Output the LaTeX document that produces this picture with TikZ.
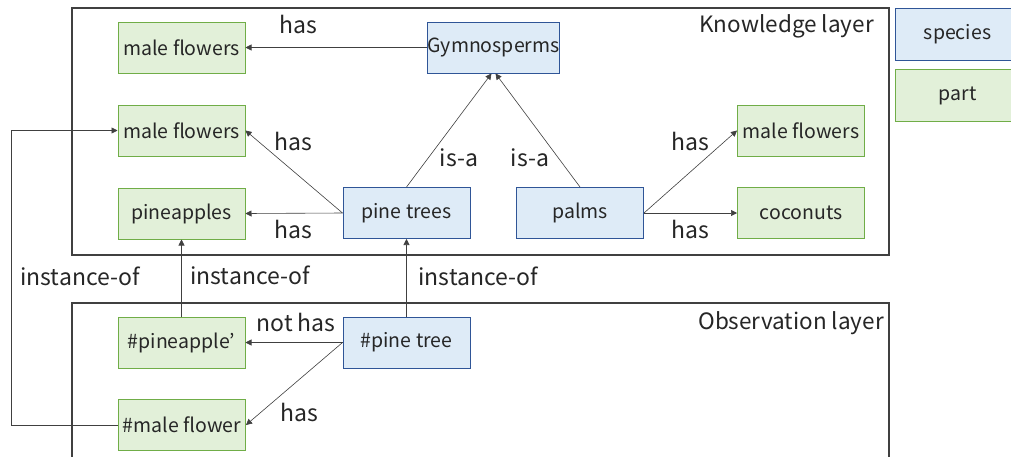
\documentclass[tikz,border=0pt]{standalone}
\usepackage{fontspec}
\setmainfont{Noto Sans CJK JP}
\usetikzlibrary{arrows.meta}
\definecolor{bfill}{HTML}{DEEBF7}
\definecolor{bline}{HTML}{2F5597}
\definecolor{gfill}{HTML}{E2F0D9}
\definecolor{gline}{HTML}{70AD47}
\definecolor{txt}{HTML}{262626}
\definecolor{edge}{HTML}{404040}
\tikzset{
  base/.style={minimum width=127pt,minimum height=51pt,inner sep=0pt,text=txt,font=\fontsize{19.5}{22}\selectfont,line width=1pt},
  species/.style={base,draw=bline,fill=bfill},
  part/.style={base,draw=gline,fill=gfill},
  rel/.style={draw=edge,line width=0.6pt,-{Triangle[length=6pt,width=6pt]}},
  lbl/.style={text=txt,font=\fontsize{23}{25}\selectfont,inner sep=0pt},
  layer/.style={draw=edge,line width=1.4pt}
}
\begin{document}
\begin{tikzpicture}[x=1pt,y=-1pt]
\useasboundingbox (0,0) rectangle (1011,456);
\clip (0,0) rectangle (1011,456);
\fill[white] (0,0) rectangle (1011,456);
% layers
\draw[layer] (72,8) rectangle (889,255);
\draw[layer] (72,303) rectangle (889,470);
\node[lbl,anchor=east,font=\fontsize{22.5}{25}\selectfont] (kl) at (874,26) {Knowledge layer};
\node[lbl,anchor=east,font=\fontsize{22.5}{25}\selectfont] (ol) at (884,323) {Observation layer};
% legend
\node[species,anchor=north west,minimum width=130pt,minimum height=52pt] (lsp) at (895,8) {\hspace*{-6pt}species};
\node[part,anchor=north west,minimum width=130pt,minimum height=52pt] (lpt) at (895,69) {\hspace*{-6pt}part};
% knowledge nodes
\node[part] (mf1) at (181.5,47.5) {male flowers};
\node[species] (gym) at (493.5,47.5) {Gymnosperms};
\node[part] (mf2) at (181.5,130.5) {male flowers};
\node[part] (pa) at (181.5,213.5) {pineapples};
\node[species] (pt) at (406.5,213) {pine trees};
\node[species] (pm) at (580,213) {palms};
\node[part] (mf3) at (801,130.5) {male flowers};
\node[part] (co) at (801,213) {coconuts};
% observation nodes
\node[part] (opa) at (181.5,342.5) {\#pineapple'};
\node[species] (opt) at (406.5,342.5) {\#pine tree};
\node[part] (omf) at (182,425) {\#male flower};
% edges
\draw[rel] (gym.west) -- (mf1.east);
\node[lbl] (l1) at (298,24) {has};
\draw[rel] (pt.west) -- (mf2.east);
\node[lbl] (l2) at (293,141) {has};
\draw[rel] (pt.west) -- (pa.east);
\node[lbl] (l3) at (293,229) {has};
\draw[rel] (pt.north) -- ([xshift=-2pt]gym.south);
\node[lbl] (l4) at (459,158) {is-a};
\draw[rel] (pm.north) -- ([xshift=2pt]gym.south);
\node[lbl] (l5) at (530,158) {is-a};
\draw[rel] (pm.east) -- (mf3.west);
\node[lbl] (l6) at (690,141) {has};
\draw[rel] (pm.east) -- (co.west);
\node[lbl] (l7) at (690,229) {has};
\draw[rel] (opa.north) -- (pa.south);
\node[lbl] (l8) at (250,275) {instance-of};
\draw[rel] (opt.north) -- (pt.south);
\node[lbl] (l9) at (478,276) {instance-of};
\draw[rel] (opt.west) -- (opa.east);
\node[lbl] (l10) at (296,322) {not has};
\draw[rel] (opt.west) -- (omf.east);
\node[lbl] (l11) at (299,412) {has};
\coordinate (c1) at (11,425);
\coordinate (c2) at (11,130.5);
\draw[rel] (omf.west) -- (c1) -- (c2) -- (mf2.west);
\node[lbl] (l12) at (80,276) {instance-of};
\end{tikzpicture}
\end{document}
